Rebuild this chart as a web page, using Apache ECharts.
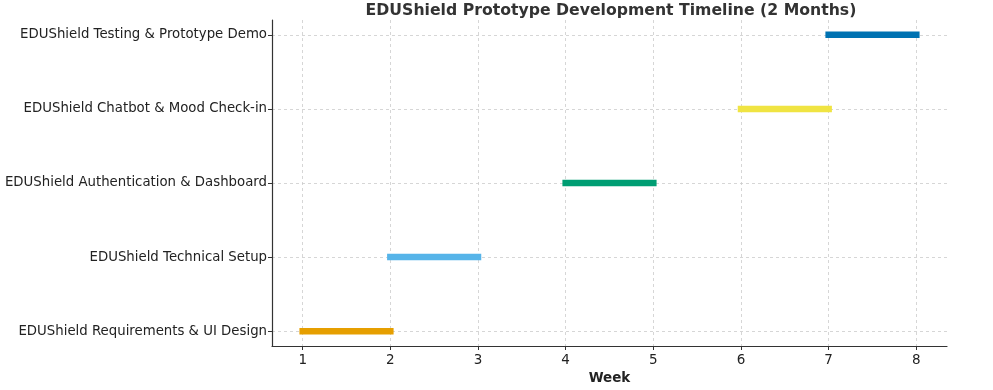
<!DOCTYPE html>
<html><head><meta charset="utf-8">
<script src="https://cdn.jsdelivr.net/npm/echarts@6/dist/echarts.min.js"></script>
<style>html,body{margin:0;padding:0;background:#fff}#c{width:993px;height:390px}</style>
</head><body><div id="c"></div>
<script>
const tasks = ["EDUShield Requirements & UI Design","EDUShield Technical Setup","EDUShield Authentication & Dashboard","EDUShield Chatbot & Mood Check-in","EDUShield Testing & Prototype Demo"];
const starts = [1,2,4,6,7];
const ends = [2,3,5,7,8];
const colors = ["#E69F00","#56B4E9","#009E73","#F0E442","#0072B2"];
const weekTicks = [1,2,3,4,5,6,7,8];
const taskIdx = [0,1,2,3,4];

const font = 'DejaVu Sans';
const chart = echarts.init(document.getElementById('c'), null, {renderer:'canvas'});
const series = tasks.map((t,i)=>({
  type:'line', name:t, showSymbol:false, symbol:'none', silent:true,
  data:[[starts[i],i],[ends[i],i]],
  lineStyle:{color:colors[i], width:6.5, cap:'square'}
}));
chart.setOption({
  animation:false,
  title:{text:'EDUShield Prototype Development Timeline (2 Months)', left:606, textAlign:'center', top:-2,
    textStyle:{fontFamily:font,fontSize:15.7,fontWeight:'bold',color:'#333'}},
  grid:{left:272,right:46,top:20,bottom:44,containLabel:false,outerBoundsMode:'none'},
  xAxis:{type:'value',min:0.65,max:8.35,name:'Week',nameLocation:'middle',nameGap:18,
    nameTextStyle:{fontFamily:font,fontSize:13.5,fontWeight:'bold',color:'#222'},
    axisLine:{show:true,onZero:false,lineStyle:{color:'#333',width:1.2}},
    axisTick:{show:true,length:4,customValues:weekTicks,lineStyle:{color:'#333'}},
    axisLabel:{customValues:weekTicks,fontFamily:font,fontSize:13.5,color:'#222',margin:7},
    splitLine:{show:true,lineStyle:{color:'#ccc',type:[3,3],width:0.8}}},
  yAxis:{type:'value',min:-0.2,max:4.2,
    axisLine:{show:true,onZero:false,lineStyle:{color:'#333',width:1.2}},
    axisTick:{show:true,length:4,customValues:taskIdx,lineStyle:{color:'#333'}},
    axisLabel:{customValues:taskIdx,fontFamily:font,fontSize:13.3,color:'#222',margin:5,
      padding:[5,0,0,0],
      formatter:v=>tasks[Math.round(v)]},
    splitLine:{show:true,lineStyle:{color:'#ccc',type:[3,3],width:0.8}}},
  series:series
});
</script></body></html>
